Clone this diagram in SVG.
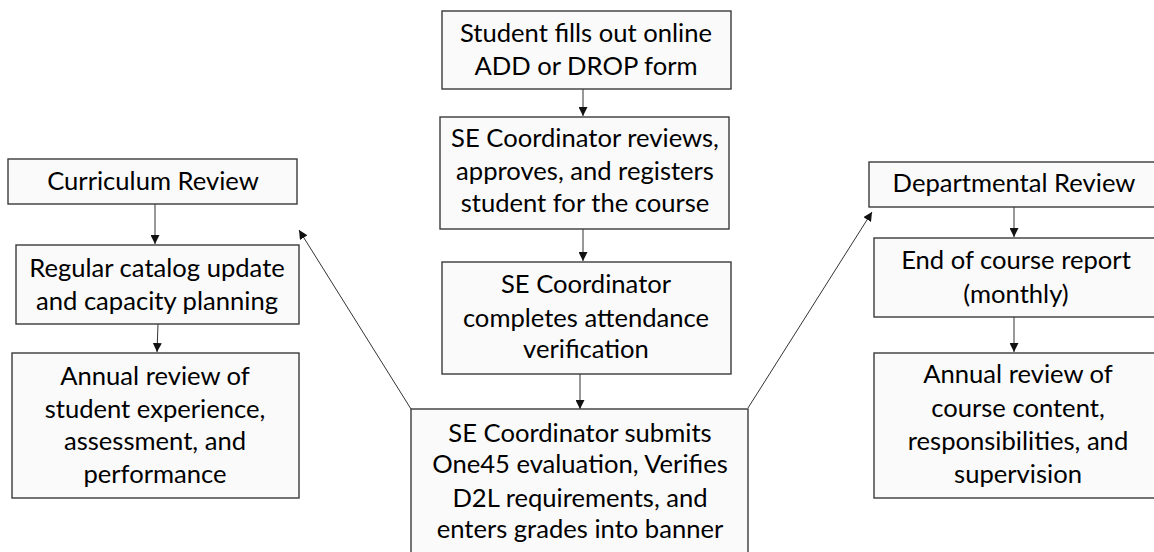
<svg xmlns="http://www.w3.org/2000/svg" width="1154" height="552" viewBox="0 0 1154 552">
<style>
.box{fill:#fafafa;stroke:#3a3a3a;stroke-width:1.4}
.t{font-family:Lato,"Open Sans",sans-serif;font-size:25.6px;fill:#000;text-anchor:middle}
.c{stroke:#333;stroke-width:1;fill:none;marker-end:url(#ah)}
</style>
<defs>
<marker id="ah" viewBox="0 0 10 10" refX="10" refY="5" markerWidth="9" markerHeight="9" markerUnits="userSpaceOnUse" orient="auto">
<path d="M0,0 L10,5 L0,10 z" fill="#111"/>
</marker>
</defs>
<rect width="1154" height="552" fill="#ffffff"/>
<g id="connectors">
<line class="c" x1="583" y1="89" x2="583" y2="116"/>
<line class="c" x1="583" y1="229" x2="583" y2="261"/>
<line class="c" x1="580" y1="374" x2="580" y2="409"/>
<line class="c" x1="411" y1="409" x2="299" y2="230"/>
<line class="c" x1="748" y1="408" x2="872" y2="212"/>
<line class="c" x1="155" y1="204" x2="155" y2="244"/>
<line class="c" x1="158" y1="324" x2="157" y2="352"/>
<line class="c" x1="1014" y1="207" x2="1014" y2="237"/>
<line class="c" x1="1014" y1="317" x2="1014" y2="352"/>
</g>
<g id="n1">
<rect class="box" x="442" y="11" width="289" height="78"/>
<text class="t" x="586" y="42">Student fills out online</text>
<text class="t" x="586" y="75">ADD or DROP form</text>
</g>
<g id="n2">
<rect class="box" x="440" y="117" width="289" height="112"/>
<text class="t" x="585" y="147">SE Coordinator reviews,</text>
<text class="t" x="585" y="180">approves, and registers</text>
<text class="t" x="585" y="212">student for the course</text>
</g>
<g id="n3">
<rect class="box" x="442" y="262" width="289" height="112"/>
<text class="t" x="586" y="293">SE Coordinator</text>
<text class="t" x="586" y="327">completes attendance</text>
<text class="t" x="586" y="358">verification</text>
</g>
<g id="n4">
<rect class="box" x="411" y="409" width="337" height="150"/>
<text class="t" x="580" y="442">SE Coordinator submits</text>
<text class="t" x="580" y="473">One45 evaluation, Verifies</text>
<text class="t" x="580" y="507">D2L requirements, and</text>
<text class="t" x="580" y="538">enters grades into banner</text>
</g>
<g id="l1">
<rect class="box" x="8" y="159" width="289" height="45"/>
<text class="t" x="153" y="190">Curriculum Review</text>
</g>
<g id="l2">
<rect class="box" x="16" y="245" width="283" height="79"/>
<text class="t" x="157" y="277">Regular catalog update</text>
<text class="t" x="157" y="310">and capacity planning</text>
</g>
<g id="l3">
<rect class="box" x="12" y="353" width="287" height="145"/>
<text class="t" x="155" y="385">Annual review of</text>
<text class="t" x="155" y="418">student experience,</text>
<text class="t" x="155" y="450">assessment, and</text>
<text class="t" x="155" y="483">performance</text>
</g>
<g id="r1">
<rect class="box" x="869" y="162" width="290" height="45"/>
<text class="t" x="1014" y="192">Departmental Review</text>
</g>
<g id="r2">
<rect class="box" x="874" y="238" width="285" height="79"/>
<text class="t" x="1016" y="269">End of course report</text>
<text class="t" x="1016" y="303">(monthly)</text>
</g>
<g id="r3">
<rect class="box" x="874" y="353" width="285" height="145"/>
<text class="t" x="1018" y="383">Annual review of</text>
<text class="t" x="1018" y="417">course content,</text>
<text class="t" x="1018" y="450">responsibilities, and</text>
<text class="t" x="1018" y="483">supervision</text>
</g>
</svg>
